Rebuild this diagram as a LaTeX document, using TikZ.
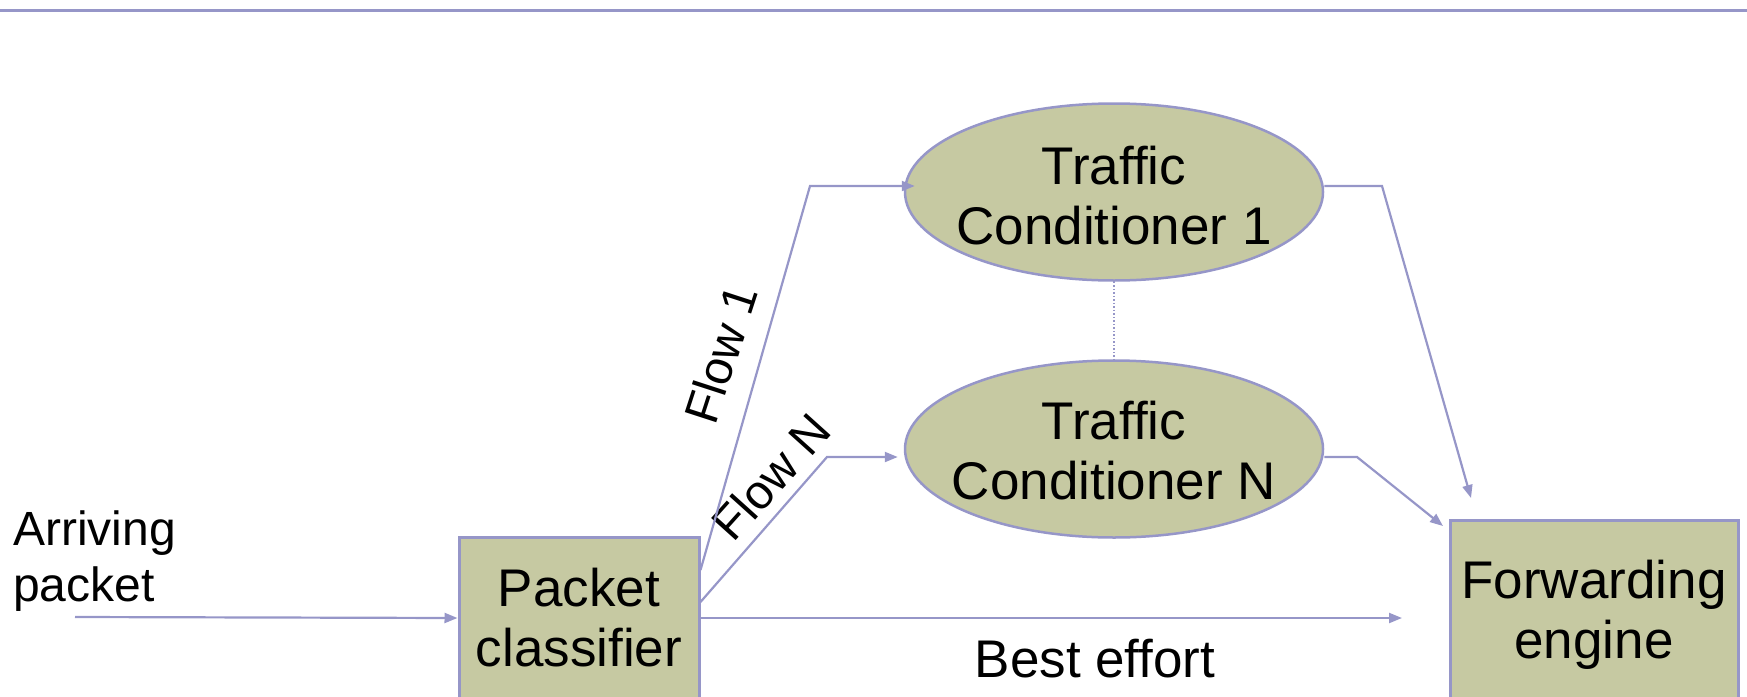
\documentclass[tikz,border=0pt]{standalone}
\usepackage{fontspec}
\setmainfont{Liberation Sans}
\usetikzlibrary{shapes.geometric,arrows.meta}
\definecolor{lineblue}{RGB}{150,150,200}
\definecolor{olivefill}{RGB}{198,201,162}
\begin{document}
\begin{tikzpicture}[x=1pt,y=1pt,
  big/.style={font=\fontsize{53}{60}\selectfont, align=center, inner sep=0pt, text=black},
  mid/.style={font=\fontsize{48}{56}\selectfont, inner sep=0pt, text=black},
  box/.style={draw=lineblue, line width=3pt, fill=olivefill, inner sep=0pt, font=\fontsize{53}{60}\selectfont, align=center},
  cond/.style={ellipse, draw=lineblue, line width=2.5pt, fill=olivefill, minimum width=418pt, minimum height=177pt, inner sep=0pt},
  conn/.style={draw=lineblue, line width=2.2pt, -{Triangle[length=13pt,width=10pt]}},
]
\useasboundingbox (0,-696) rectangle (1747,0);
\coordinate (tl) at (0,-10);
\coordinate (tr) at (1747,-10);
\draw[lineblue, line width=3pt] (tl) -- (tr);

% nodes
\node[box, minimum width=240pt, minimum height=162pt] (pc) at (579,-618) {Packet\\classifier};
\node[box, minimum width=288pt, minimum height=190pt] (fe) at (1594,-615) {Forwarding\\engine};
\node[cond] (c1) at (1114,-192) {};
\node[big] (c1t) at (1114,-196) {Traffic\\Conditioner 1};
\node[cond] (cN) at (1114,-449) {};
\node[big] (cNt) at (1114,-451) {Traffic\\Conditioner N};

\node[mid, anchor=west, align=left] (arr) at (13,-561) {Arriving\\packet};
\node[big] (be) at (1095,-659) {Best effort};
\node[mid, rotate=72] (fl1) at (721,-354) {Flow 1};
\node[mid, rotate=48] (flN) at (771,-477) {Flow N};

% coordinates
\coordinate (in) at (75,-617);
\coordinate (f1b) at (810,-186);
\coordinate (fNb) at (827,-457);
\coordinate (o1b) at (1382,-186);
\coordinate (o1e) at (1471,-498);
\coordinate (oNb) at (1357,-457);
\coordinate (oNe) at (1443,-526);
\coordinate (bee) at (1402,-618);

% connectors
\draw[conn] (in) -- (pc.west);
\draw[conn] ([yshift=48pt]pc.east) -- (f1b) -- ([shift={(11pt,6pt)}]c1.west);
\draw[conn] ([yshift=16pt]pc.east) -- (fNb) -- ([shift={(-6pt,-8pt)}]cN.west);
\draw[conn] (pc.east) -- (bee);
\draw[conn] ([yshift=6pt]c1.east) -- (o1b) -- (o1e);
\draw[conn] ([yshift=-8pt]cN.east) -- (oNb) -- (oNe);
\draw[lineblue, line width=1.5pt, dotted] (c1.south) -- (cN.north);
\end{tikzpicture}
\end{document}
